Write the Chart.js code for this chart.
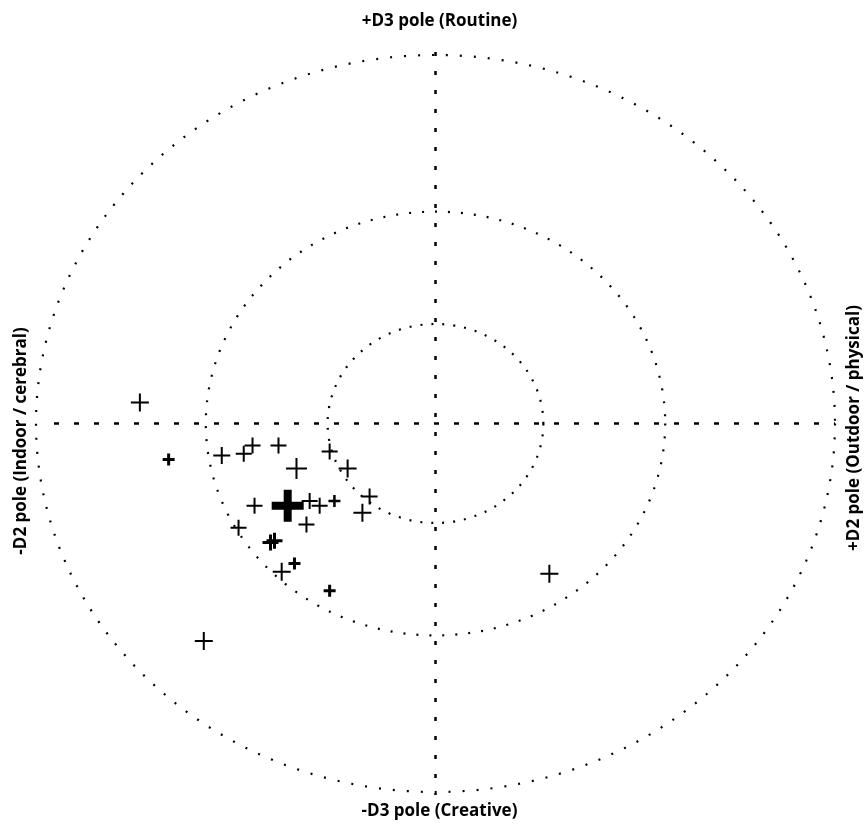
<!DOCTYPE html>
<html>
<head>
<meta charset="utf-8">
<title>D2 / D3 poles</title>
<script src="https://cdn.jsdelivr.net/npm/chart.js@4.4.1/dist/chart.umd.min.js"></script>
<style>
  body { margin: 0; background: #fff; }
  #wrap { width: 864px; height: 827px; }
</style>
</head>
<body>
<div id="wrap"><canvas id="poleChart" width="864" height="827"></canvas></div>
<script>
// positions on the D2 (x) and D3 (y) axes, outer ring = 1
var d2Values = [-0.740, -0.668, -0.535, -0.480, -0.458, -0.393, -0.348, -0.265, -0.220, -0.165,
                -0.183, -0.253, -0.290, -0.315, -0.370, -0.453, -0.323, -0.493, -0.413, -0.403,
                -0.353, -0.385, -0.265, -0.580, 0.285];
var d3Values = [0.057, -0.098, -0.087, -0.082, -0.060, -0.060, -0.122, -0.076, -0.122, -0.198,
                -0.242, -0.210, -0.223, -0.210, -0.223, -0.223, -0.274, -0.283, -0.323, -0.318,
                -0.380, -0.402, -0.454, -0.590, -0.408];
// cross half-size and stroke for each point
var crossSizes   = [9, 6, 8.5, 8, 8, 8, 10.5, 8, 9, 8, 9, 6, 8, 8, 16, 8, 8, 8, 8, 8, 6, 9, 6, 9, 9];
var crossWeights = [2, 3, 2, 2, 2, 2, 2, 2, 2, 2, 2, 2.5, 2, 2, 8, 2, 2, 2, 3, 3, 3, 2, 3, 2, 2];

var ringRadii = [0.27, 0.575, 1];
var ringGaps = [9, 11, 12];

var poleLabels = {
    top: '+D3 pole (Routine)',
    bottom: '-D3 pole (Creative)',
    left: '-D2 pole (Indoor / cerebral)',
    right: '+D2 pole (Outdoor / physical)'
};

var points = d2Values.map(function (x, i) {
    return { x: x, y: d3Values[i] };
});

// rings, the dashed cross through the centre and the pole labels
var polePlugin = {
    id: 'polePlugin',
    beforeDatasetsDraw: function (chart) {
        var ctx = chart.ctx;
        var xs = chart.scales.x, ys = chart.scales.y;
        var cx = xs.getPixelForValue(0), cy = ys.getPixelForValue(0);

        ctx.save();
        ctx.strokeStyle = '#000';
        ringRadii.forEach(function (r, i) {
            var rx = xs.getPixelForValue(r) - cx;
            var ry = cy - ys.getPixelForValue(r);
            ctx.lineWidth = 2.2;
            ctx.setLineDash([2, ringGaps[i]]);
            ctx.beginPath();
            ctx.ellipse(cx, cy, rx, ry, 0, 0, Math.PI * 2);
            ctx.stroke();
        });

        ctx.lineWidth = 2.5;
        ctx.setLineDash([5, 15]);
        ctx.lineDashOffset = 7;
        ctx.beginPath();
        ctx.moveTo(xs.getPixelForValue(-1) + 5, cy);
        ctx.lineTo(xs.getPixelForValue(1), cy);
        ctx.stroke();

        ctx.setLineDash([4, 15]);
        ctx.lineDashOffset = 0;
        ctx.beginPath();
        ctx.moveTo(cx, ys.getPixelForValue(1) - 3);
        ctx.lineTo(cx, ys.getPixelForValue(-1) + 3);
        ctx.stroke();
        ctx.restore();

        ctx.save();
        ctx.fillStyle = '#000';
        ctx.font = 'bold 17px "Open Sans", sans-serif';
        ctx.textAlign = 'center';
        ctx.textBaseline = 'middle';
        ctx.fillText(poleLabels.top, cx + 4, 21);
        ctx.fillText(poleLabels.bottom, cx + 4, 811);

        ctx.translate(21, 441);
        ctx.rotate(-Math.PI / 2);
        ctx.fillText(poleLabels.left, 0, 0);
        ctx.restore();

        ctx.save();
        ctx.fillStyle = '#000';
        ctx.font = 'bold 17px "Open Sans", sans-serif';
        ctx.textAlign = 'center';
        ctx.textBaseline = 'middle';
        ctx.translate(854, 428);
        ctx.rotate(-Math.PI / 2);
        ctx.fillText(poleLabels.right, 0, 0);
        ctx.restore();
    }
};

var ctx = document.getElementById('poleChart').getContext('2d');
var poleChart = new Chart(ctx, {
    type: 'scatter',
    data: {
        datasets: [{
            data: points,
            pointStyle: 'cross',
            pointRadius: crossSizes,
            pointHoverRadius: crossSizes,
            pointBorderWidth: crossWeights,
            pointHoverBorderWidth: crossWeights,
            borderColor: '#000',
            backgroundColor: '#000'
        }]
    },
    options: {
        responsive: false,
        animation: false,
        events: [],
        layout: {
            padding: { left: 36, right: 29, top: 55, bottom: 35 }
        },
        plugins: {
            legend: { display: false },
            tooltip: { enabled: false }
        },
        scales: {
            x: { type: 'linear', min: -1, max: 1, display: false },
            y: { type: 'linear', min: -1, max: 1, display: false }
        }
    },
    plugins: [polePlugin]
});
</script>
</body>
</html>
